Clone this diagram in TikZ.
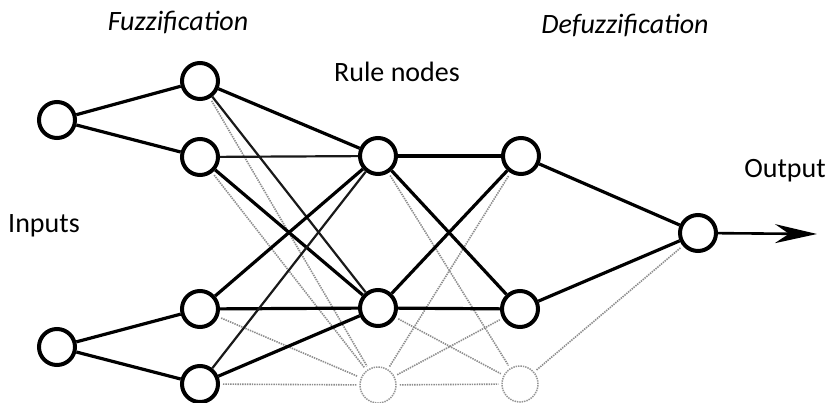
\documentclass[tikz,border=0pt]{standalone}
\usepackage{fontspec}
\setmainfont{Carlito}
\usetikzlibrary{arrows.meta}
\begin{document}
\begin{tikzpicture}[x=1pt,y=-1pt,
  neuron/.style={circle,draw=black,line width=4pt,minimum size=36pt,inner sep=0pt,fill=white},
  ghost/.style={circle,draw=gray!85,line width=1.5pt,dash pattern=on 1.4pt off 1pt,minimum size=36pt,inner sep=0pt},
  thick edge/.style={draw=black,line width=3.2pt},
  thin edge/.style={draw=black!90,line width=2.2pt},
  faint edge/.style={draw=gray!90,line width=1.6pt,dash pattern=on 1.4pt off 1pt,shorten >=3pt,shorten <=3pt},
  label/.style={font=\fontsize{28}{30}\selectfont,anchor=base}]
\useasboundingbox (0,0) rectangle (830,403);
\fill[white] (0,0) rectangle (830,403);
\node[ghost] (R3) at (378,385) {};
\node[ghost] (D3) at (520,384) {};
\node[neuron] (I1) at (57,120) {};
\node[neuron] (I2) at (57,347) {};
\node[neuron] (F1) at (200,81) {};
\node[neuron] (F2) at (200,157) {};
\node[neuron] (F3) at (200,309) {};
\node[neuron] (F4) at (200,384) {};
\node[neuron] (R1) at (378,156) {};
\node[neuron] (R2) at (378,308) {};
\node[neuron] (D1) at (521,156) {};
\node[neuron] (D2) at (520,309) {};
\node[neuron] (O) at (698,233) {};
\coordinate (end) at (817,234);
% faint edges
\path[faint edge] (F1) -- (R3);
\path[faint edge] (F2) -- (R3);
\path[faint edge] (F3) -- (R3);
\path[faint edge] (F4) -- (R3);
\path[faint edge] (R1) -- (D3);
\path[faint edge] (R2) -- (D3);
\path[faint edge] (R3) -- (D1);
\path[faint edge] (R3) -- (D2);
\path[faint edge] (R3) -- (D3);
\path[faint edge] (D3) -- (O);
% solid edges
\path[thick edge] (I1) -- (F1);
\path[thick edge] (I1) -- (F2);
\path[thick edge] (I2) -- (F3);
\path[thick edge] (I2) -- (F4);
\path[thick edge] (F1) -- (R1);
\path[thin edge] (F1) -- (R2);
\path[thin edge] (F2) -- (R1);
\path[thick edge] (F2) -- (R2);
\path[thick edge] (F3) -- (R1);
\path[thick edge] (F3) -- (R2);
\path[thin edge] (F4) -- (R1);
\path[thick edge] (F4) -- (R2);
\path[thick edge] (R1) -- (D1);
\path[thick edge] (R1) -- (D2);
\path[thick edge] (R2) -- (D1);
\path[thick edge] (R2) -- (D2);
\path[thick edge] (D1) -- (O);
\path[thick edge] (D2) -- (O);
\draw[line width=2.6pt,-{Stealth[length=42pt,width=19pt,inset=14pt]}] (O) -- (end);
% labels
\node[label,font=\fontsize{28}{30}\selectfont\itshape] (fuz) at (178,31) {Fuzzification};
\node[label,font=\fontsize{28}{30}\selectfont\itshape] (defuz) at (625,34) {Defuzzification};
\node[label] (rule) at (397,82) {Rule nodes};
\node[label] (inp) at (44,233) {Inputs};
\node[label] (out) at (785,178) {Output};
\end{tikzpicture}
\end{document}
